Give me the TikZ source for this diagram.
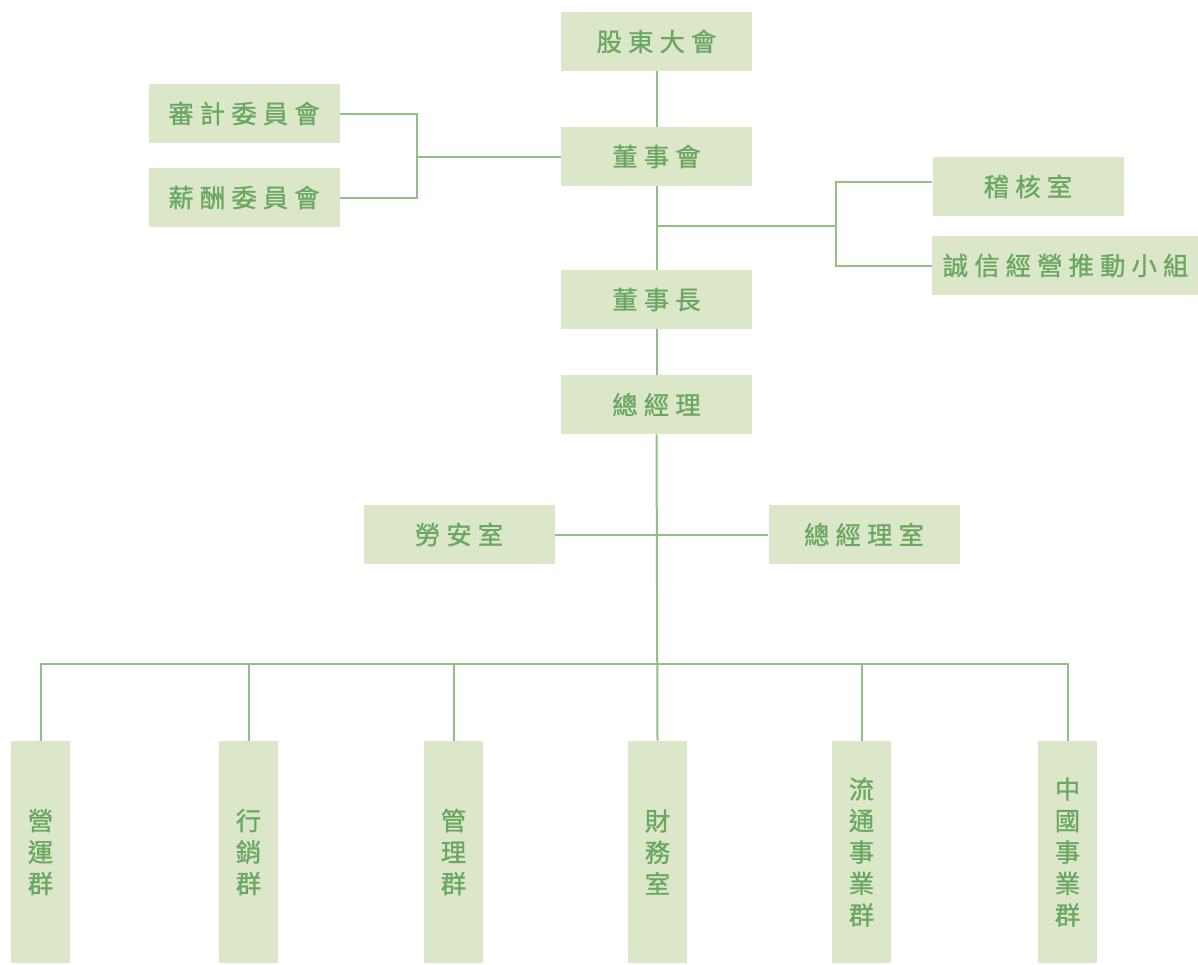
\documentclass[tikz,border=0pt]{standalone}
\usepackage{fontspec}
\newfontfamily\cjk[FakeBold=1]{Noto Sans CJK TC}
\definecolor{boxfill}{HTML}{DCE6C9}
\definecolor{txt}{HTML}{6AA862}
\definecolor{ln}{HTML}{92BF84}
\newcommand{\gp}{\hspace{4.6pt}}
\begin{document}
\begin{tikzpicture}[x=0.75pt,y=-0.75pt,
  hbox/.style={fill=boxfill,draw=none,minimum width=143.25pt,minimum height=44.25pt,inner sep=0pt,
    text=txt,font=\cjk\fontsize{19}{21}\selectfont},
  vbox/.style={fill=boxfill,draw=none,minimum width=44.25pt,minimum height=166.5pt,inner sep=0pt,
    text=txt,align=center,text width=44.25pt,font=\cjk\fontsize{19}{23.6}\selectfont},
  conn/.style={draw=ln,line width=1.5pt}]
\useasboundingbox (0,0) rectangle (1198,964);
% coordinates for connectors
\coordinate (bl) at (417,157);
\coordinate (br) at (836,226);
\coordinate (brt) at (836,182);
\coordinate (brb) at (836,265.5);
\coordinate (mc) at (657,226);
\coordinate (bus) at (657,664);
% nodes
\node[hbox] (gd) at (656.5,41.5) {股\gp 東\gp 大\gp 會};
\node[hbox] (ds) at (656.5,156.5) {董\gp 事\gp 會};
\node[hbox] (sj) at (244,113.5) {審\gp 計\gp 委\gp 員\gp 會};
\node[hbox] (xc) at (244,197.5) {薪\gp 酬\gp 委\gp 員\gp 會};
\node[hbox] (jh) at (1028,186.5) {稽\gp 核\gp 室};
\node[hbox,minimum width=200pt,anchor=west] (cx) at (932,265.5) {誠\gp 信\gp 經\gp 營\gp 推\gp 動\gp 小\gp 組};
\node[hbox] (dz) at (656.5,299.5) {董\gp 事\gp 長};
\node[hbox] (zj) at (656.5,404.5) {總\gp 經\gp 理};
\node[hbox] (la) at (459,534.5) {勞\gp 安\gp 室};
\node[hbox] (zs) at (864,534.5) {總\gp 經\gp 理\gp 室};
\node[vbox] (b1) at (40.5,852) {營\\運\\群};
\node[vbox] (b2) at (248.5,852) {行\\銷\\群};
\node[vbox] (b3) at (453.5,852) {管\\理\\群};
\node[vbox] (b4) at (657.5,852) {財\\務\\室};
\node[vbox] (b5) at (861.5,852) {流\\通\\事\\業\\群};
\node[vbox] (b6) at (1067.5,852) {中\\國\\事\\業\\群};
% connectors
\draw[conn] (gd.south) -- (ds.north);
\draw[conn] (ds.south) -- (dz.north);
\draw[conn] (dz.south) -- (zj.north);
\draw[conn] (zj.south) -- (b4.north);
\draw[conn] (ds.west) -- (ds.west -| bl);
\draw[conn] (sj.east) -| (bl) |- (xc.east);
\draw[conn] (mc) -- (br);
\draw[conn] (brt -| jh.west) -- (brt) -- (brb) -- (cx.west);
\draw[conn] (la.east) -- (zs.west);
\draw[conn] (b1.north) |- (bus) -| (b6.north);
\draw[conn] (b2.north) -- (b2.north |- bus);
\draw[conn] (b3.north) -- (b3.north |- bus);
\draw[conn] (b5.north) -- (b5.north |- bus);
\end{tikzpicture}
\end{document}
